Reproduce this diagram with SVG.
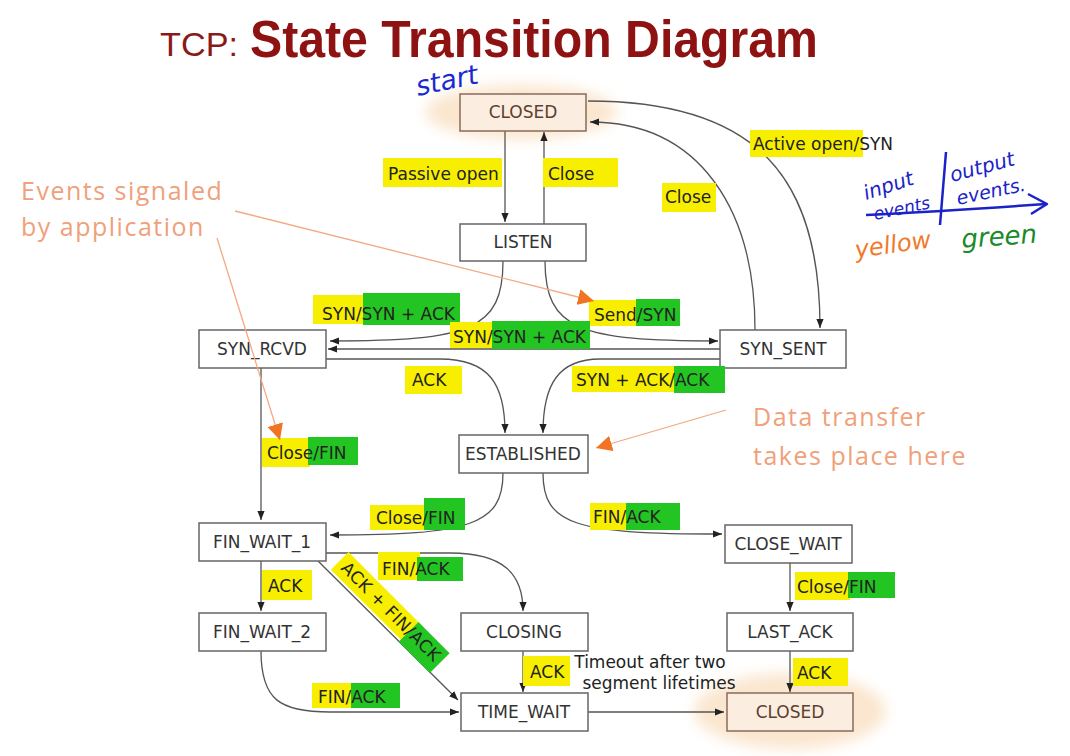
<svg xmlns="http://www.w3.org/2000/svg" width="1070" height="756" viewBox="0 0 1070 756">
<defs>
  <marker id="arr" viewBox="0 0 10 10" refX="10" refY="5" markerWidth="9" markerHeight="9" markerUnits="userSpaceOnUse" orient="auto">
    <path d="M0,1 L10,5 L0,9 z" fill="#222"/>
  </marker>
  <marker id="oarr" viewBox="0 0 10 10" refX="10" refY="5" markerWidth="16" markerHeight="16" markerUnits="userSpaceOnUse" orient="auto">
    <path d="M0,0 L10,5 L0,10 z" fill="#f07424"/>
  </marker>
  <filter id="soft" x="-30%" y="-50%" width="160%" height="200%">
    <feGaussianBlur stdDeviation="7"/>
  </filter>
  <style>
    .glow{fill:#fbe6cf;filter:url(#soft)}
    .node rect{fill:#fff;stroke:#666;stroke-width:1.5}
    .node text{font-family:"DejaVu Sans",sans-serif;font-size:17px;fill:#333;text-anchor:middle}
    .closed rect{fill:#fbeee0;stroke:#8a6a5a}
    .closed text{fill:#5e4030}
    .edges path{fill:none;stroke:#555;stroke-width:1.3;marker-end:url(#arr)}
    .lbl{font-family:"DejaVu Sans",sans-serif;font-size:17px;fill:#222}
    .y{fill:#f8ef00}
    .g{fill:#22c522}
    .hand{font-family:"DejaVu Sans",sans-serif;font-style:italic}
    .orange{font-family:"Open Sans",sans-serif;fill:#f0a07a;font-size:25px;letter-spacing:1.5px}
  </style>
</defs>
<rect width="1070" height="756" fill="#fff"/>

<!-- Title -->
<g id="title">
  <text x="160" y="56" font-family="Liberation Sans, Arial, sans-serif" font-size="34" fill="#8a1a1a" textLength="78" lengthAdjust="spacingAndGlyphs">TCP:</text>
  <text x="250" y="57" font-family="Liberation Sans, Arial, sans-serif" font-size="51" font-weight="bold" fill="#8e1212" textLength="568" lengthAdjust="spacingAndGlyphs">State Transition Diagram</text>
</g>

<!-- glows -->
<ellipse class="glow" cx="521" cy="112" rx="96" ry="27"/>
<ellipse class="glow" cx="790" cy="711" rx="96" ry="38"/>

<!-- Connectors -->
<g id="connectors" class="edges">
  <path d="M505,131 L505,222"/>
  <path d="M544,224 L544,132"/>
  <path d="M755,330 C755,210 700,122 590,122"/>
  <path d="M588,101 C760,101 820,180 820,328"/>
  <path d="M503,261 C503,330 470,341 330,341"/>
  <path d="M545,261 C545,330 580,341 718,341"/>
  <path d="M720,349 L328,349"/>
  <path d="M326,359 L440,359 C490,359 505,385 505,433"/>
  <path d="M720,359 L600,359 C558,359 543,385 543,433"/>
  <path d="M261,368 L261,520"/>
  <path d="M503,473 C503,525 470,535 330,535"/>
  <path d="M543,473 C543,525 575,534 722,534"/>
  <path d="M261,561 L261,611"/>
  <path d="M326,553 L450,553 C505,553 523,575 523,611"/>
  <path d="M318,561 L458,700"/>
  <path d="M261,651 C261,700 280,712 330,712 L459,712"/>
  <path d="M523,651 L523,692"/>
  <path d="M588,712 L724,712"/>
  <path d="M790,563 L790,611"/>
  <path d="M790,651 L790,692"/>
</g>

<!-- Nodes -->
<g id="closed_top" class="node closed"><rect x="460" y="94" width="126" height="37"/><text x="523" y="118">CLOSED</text></g>
<g id="listen" class="node"><rect x="460" y="224" width="126" height="37"/><text x="523" y="248">LISTEN</text></g>
<g id="syn_rcvd" class="node"><rect x="199" y="330" width="127" height="38"/><text x="262" y="355">SYN_RCVD</text></g>
<g id="syn_sent" class="node"><rect x="720" y="330" width="126" height="38"/><text x="783" y="355">SYN_SENT</text></g>
<g id="established" class="node"><rect x="459" y="435" width="129" height="38"/><text x="523" y="460">ESTABLISHED</text></g>
<g id="fin_wait_1" class="node"><rect x="199" y="523" width="127" height="38"/><text x="262" y="548">FIN_WAIT_1</text></g>
<g id="close_wait" class="node"><rect x="725" y="525" width="127" height="38"/><text x="788" y="550">CLOSE_WAIT</text></g>
<g id="fin_wait_2" class="node"><rect x="199" y="613" width="127" height="38"/><text x="262" y="638">FIN_WAIT_2</text></g>
<g id="closing" class="node"><rect x="461" y="613" width="127" height="38"/><text x="524" y="638">CLOSING</text></g>
<g id="last_ack" class="node"><rect x="727" y="613" width="126" height="38"/><text x="790" y="638">LAST_ACK</text></g>
<g id="time_wait" class="node"><rect x="461" y="693" width="127" height="38"/><text x="524" y="718">TIME_WAIT</text></g>
<g id="closed_bottom" class="node closed"><rect x="727" y="693" width="126" height="38"/><text x="790" y="718">CLOSED</text></g>

<!-- Labels -->
<g id="labels">
  <rect class="y" x="383" y="158" width="119" height="29"/>
  <text class="lbl" x="388" y="180">Passive open</text>
  <rect class="y" x="543" y="158" width="75" height="29"/>
  <text class="lbl" x="548" y="180">Close</text>
  <rect class="y" x="662" y="183" width="54" height="29"/>
  <text class="lbl" x="665" y="203">Close</text>
  <rect class="y" x="750" y="130" width="113" height="27"/>
  <text class="lbl" x="753" y="150">Active open/SYN</text>

  <rect class="y" x="313" y="295" width="52" height="29"/>
  <rect class="g" x="363" y="293" width="97" height="32"/>
  <text class="lbl" x="322" y="320">SYN/SYN + ACK</text>
  <rect class="y" x="589" y="300" width="50" height="26"/>
  <rect class="g" x="636" y="299" width="44" height="27"/>
  <text class="lbl" x="594" y="321">Send/SYN</text>
  <rect class="y" x="450" y="322" width="45" height="26"/>
  <rect class="g" x="492" y="321" width="98" height="28"/>
  <text class="lbl" x="453" y="343">SYN/SYN + ACK</text>

  <rect class="y" x="405" y="366" width="57" height="28"/>
  <text class="lbl" x="412" y="386">ACK</text>
  <rect class="y" x="572" y="366" width="104" height="26"/>
  <rect class="g" x="674" y="366" width="51" height="27"/>
  <text class="lbl" x="576" y="386">SYN + ACK/ACK</text>

  <rect class="y" x="262" y="438" width="48" height="29"/>
  <rect class="g" x="308" y="437" width="50" height="28"/>
  <text class="lbl" x="267" y="459">Close/FIN</text>
  <rect class="y" x="370" y="505" width="56" height="25"/>
  <rect class="g" x="424" y="498" width="41" height="32"/>
  <text class="lbl" x="376" y="524">Close/FIN</text>
  <rect class="y" x="590" y="503" width="38" height="27"/>
  <rect class="g" x="626" y="503" width="54" height="27"/>
  <text class="lbl" x="593" y="523">FIN/ACK</text>

  <rect class="y" x="262" y="570" width="50" height="30"/>
  <text class="lbl" x="268" y="592">ACK</text>
  <rect class="y" x="378" y="552" width="42" height="28"/>
  <rect class="g" x="417" y="557" width="46" height="24"/>
  <text class="lbl" x="382" y="575">FIN/ACK</text>

  <g transform="translate(340,569) rotate(45)">
    <rect class="y" x="-6" y="-18" width="102" height="25"/>
    <rect class="g" x="93" y="-18" width="44" height="28"/>
    <text class="lbl" x="0" y="0" textLength="132" lengthAdjust="spacing">ACK + FIN/ACK</text>
  </g>

  <rect class="y" x="312" y="683" width="42" height="25"/>
  <rect class="g" x="351" y="683" width="49" height="25"/>
  <text class="lbl" x="318" y="703">FIN/ACK</text>
  <rect class="y" x="523" y="656" width="47" height="30"/>
  <text class="lbl" x="530" y="678">ACK</text>
  <text class="lbl" x="650" y="668" text-anchor="middle">Timeout after two</text>
  <text class="lbl" x="659" y="689" text-anchor="middle">segment lifetimes</text>

  <rect class="y" x="795" y="572" width="55" height="28"/>
  <rect class="g" x="848" y="572" width="47" height="26"/>
  <text class="lbl" x="797" y="593">Close/FIN</text>
  <rect class="y" x="793" y="658" width="55" height="28"/>
  <text class="lbl" x="797" y="679">ACK</text>
</g>

<!-- Handwritten annotations -->
<g id="start_note">
  <text class="hand" x="418" y="96" font-size="27" fill="#1a2ad0" transform="rotate(-12 418 96)">start</text>
</g>

<g id="events_note">
  <text class="orange" x="21" y="200">Events signaled</text>
  <text class="orange" x="21" y="236">by application</text>
  <path d="M235,211 L594,301" stroke="#f4a880" stroke-width="1.3" fill="none" marker-end="url(#oarr)"/>
  <path d="M217,238 L280,440" stroke="#f4a880" stroke-width="1.3" fill="none" marker-end="url(#oarr)"/>
</g>

<g id="data_note">
  <text class="orange" x="753" y="426">Data transfer</text>
  <text class="orange" x="753" y="465">takes place here</text>
  <path d="M726,410 L596,448" stroke="#f4a880" stroke-width="1.3" fill="none" marker-end="url(#oarr)"/>
</g>

<g id="legend">
  <path d="M866,215 C930,212 990,208 1046,204" stroke="#1a22c8" stroke-width="2.5" fill="none"/>
  <path d="M1028,194 L1047,204 L1031,214" stroke="#1a22c8" stroke-width="2.5" fill="none" stroke-linejoin="round"/>
  <path d="M946,152 L940,225" stroke="#1a22c8" stroke-width="2.5" fill="none"/>
  <text class="hand" x="866" y="200" font-size="20" fill="#1a22c8" transform="rotate(-18 866 200)">input</text>
  <text class="hand" x="875" y="220" font-size="17" fill="#1a22c8" transform="rotate(-12 875 220)">events</text>
  <text class="hand" x="952" y="182" font-size="20" fill="#1a22c8" transform="rotate(-15 952 182)">output</text>
  <text class="hand" x="958" y="205" font-size="19" fill="#1a22c8" transform="rotate(-12 958 205)">events.</text>
  <text class="hand" x="856" y="258" font-size="24" fill="#f07a2a" transform="rotate(-8 856 258)">yellow</text>
  <text class="hand" x="962" y="248" font-size="26" fill="#1a8a2a" transform="rotate(-4 962 248)">green</text>
</g>
</svg>
